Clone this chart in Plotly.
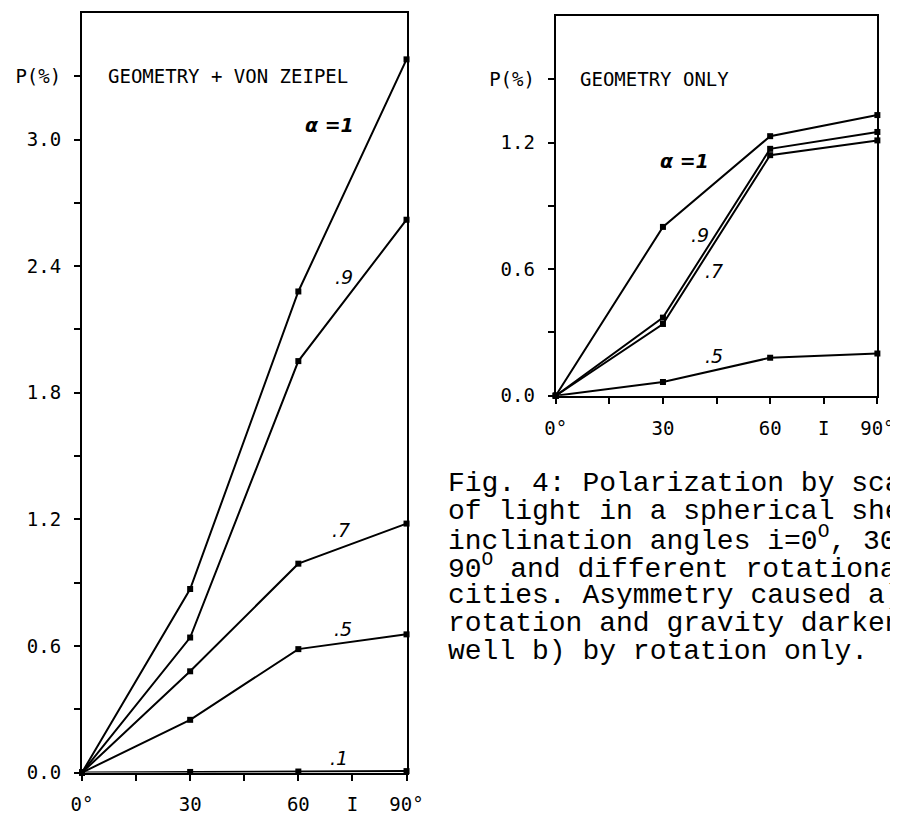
import plotly.graph_objects as go

# ---- data ----
incl = [0, 30, 60, 90]

left_alpha_1 = [0.0, 0.87, 2.28, 3.38]
left_alpha_09 = [0.0, 0.64, 1.95, 2.62]
left_alpha_07 = [0.0, 0.48, 0.99, 1.18]
left_alpha_05 = [0.0, 0.25, 0.585, 0.655]
left_alpha_01 = [0.0, 0.003, 0.005, 0.007]

right_alpha_1 = [0.0, 0.80, 1.23, 1.33]
right_alpha_09 = [0.0, 0.37, 1.17, 1.25]
right_alpha_07 = [0.0, 0.34, 1.14, 1.21]
right_alpha_05 = [0.0, 0.065, 0.18, 0.20]

x_tickvals = [0, 15, 30, 45, 60, 75, 90]
x_ticktext = ["0°", "", "30", "", "60", "I", "90°"]

left_y_tickvals = [0, 0.3, 0.6, 0.9, 1.2, 1.5, 1.8, 2.1, 2.4, 2.7, 3.0, 3.3]
left_y_ticktext = ["0.0", "", "0.6", "", "1.2", "", "1.8", "", "2.4", "", "3.0", "P(%)"]
right_y_tickvals = [0, 0.3, 0.6, 0.9, 1.2, 1.5]
right_y_ticktext = ["0.0", "", "0.6", "", "1.2", "P(%)"]

caption_lines = [
    "Fig. 4: Polarization by sca",
    "of light in a spherical she",
    "inclination angles i=0<sup>O</sup>, 30",
    "90<sup>O</sup> and different rotationa",
    "cities. Asymmetry caused a)",
    "rotation and gravity darken",
    "well b) by rotation only.",
]

W, H = 898, 818
fig = go.Figure()

line_style = dict(color="black", width=2)
marker_style = dict(symbol="square", size=6, color="black")

for ys in [left_alpha_1, left_alpha_09, left_alpha_07, left_alpha_05, left_alpha_01]:
    fig.add_trace(go.Scatter(x=incl, y=ys, mode="lines+markers", line=line_style,
                             marker=marker_style, xaxis="x", yaxis="y",
                             cliponaxis=False, showlegend=False, hoverinfo="skip"))
for ys in [right_alpha_1, right_alpha_09, right_alpha_07, right_alpha_05]:
    fig.add_trace(go.Scatter(x=incl, y=ys, mode="lines+markers", line=line_style,
                             marker=marker_style, xaxis="x2", yaxis="y2",
                             cliponaxis=False, showlegend=False, hoverinfo="skip"))

tickfont = dict(family="DejaVu Sans Mono", size=19, color="black")
axis_common = dict(showline=True, linecolor="black", linewidth=2, mirror=True,
                   ticks="outside", ticklen=6, tickwidth=1.5, tickcolor="black",
                   showgrid=False, zeroline=False, tickfont=tickfont, fixedrange=True)

fig.update_layout(
    width=W, height=H,
    margin=dict(l=0, r=0, t=0, b=0),
    paper_bgcolor="white", plot_bgcolor="white",
    xaxis=dict(domain=[65 / W, 400 / W], range=[0, 90], anchor="y",
               tickvals=x_tickvals, ticktext=x_ticktext, ticklabelstandoff=8, **axis_common),
    yaxis=dict(domain=[1 - 775 / H, 1 - 5 / H], range=[0, 3.6], anchor="x",
               tickvals=left_y_tickvals, ticktext=left_y_ticktext, ticklabelstandoff=9, **axis_common),
    xaxis2=dict(domain=[554 / W, 886 / W], range=[0, 90], anchor="y2",
                tickvals=x_tickvals, ticktext=x_ticktext, ticklabelstandoff=8, **axis_common),
    yaxis2=dict(domain=[1 - 393 / H, 1 - 8 / H], range=[0, 1.8], anchor="x2",
                tickvals=right_y_tickvals, ticktext=right_y_ticktext, ticklabelstandoff=9, **axis_common),
)

lab_font = dict(family="DejaVu Sans", size=19, color="black")
title_font = dict(family="DejaVu Sans Mono", size=19, color="black")

annotations = [
    dict(text="GEOMETRY + VON ZEIPEL", x=6.8, y=3.3, xref="x", yref="y", xanchor="left",
         showarrow=False, font=title_font),
    dict(text="<b><i>α =1</i></b>", x=68.6, y=3.07, xref="x", yref="y", showarrow=False, font=lab_font),
    dict(text="<i>.9</i>", x=72.6, y=2.35, xref="x", yref="y", showarrow=False, font=lab_font),
    dict(text="<i>.7</i>", x=71.8, y=1.15, xref="x", yref="y", showarrow=False, font=lab_font),
    dict(text="<i>.5</i>", x=72.3, y=0.68, xref="x", yref="y", showarrow=False, font=lab_font),
    dict(text="<i>.1</i>", x=71.3, y=0.07, xref="x", yref="y", showarrow=False, font=lab_font),
    dict(text="GEOMETRY ONLY", x=6.2, y=1.5, xref="x2", yref="y2", xanchor="left",
         showarrow=False, font=title_font),
    dict(text="<b><i>α =1</i></b>", x=36, y=1.11, xref="x2", yref="y2", showarrow=False, font=lab_font),
    dict(text="<i>.9</i>", x=40.4, y=0.76, xref="x2", yref="y2", showarrow=False, font=lab_font),
    dict(text="<i>.7</i>", x=44.4, y=0.59, xref="x2", yref="y2", showarrow=False, font=lab_font),
    dict(text="<i>.5</i>", x=44.4, y=0.19, xref="x2", yref="y2", showarrow=False, font=lab_font),
]
for i, line in enumerate(caption_lines):
    annotations.append(dict(text=line, x=441 / W, y=1 - (482 + 28.3 * i) / H,
                            xref="paper", yref="paper", xanchor="left", yanchor="middle",
                            align="left", showarrow=False,
                            font=dict(family="Liberation Mono", size=28, color="black")))
fig.update_layout(annotations=annotations)

fig.write_html("out.html")
